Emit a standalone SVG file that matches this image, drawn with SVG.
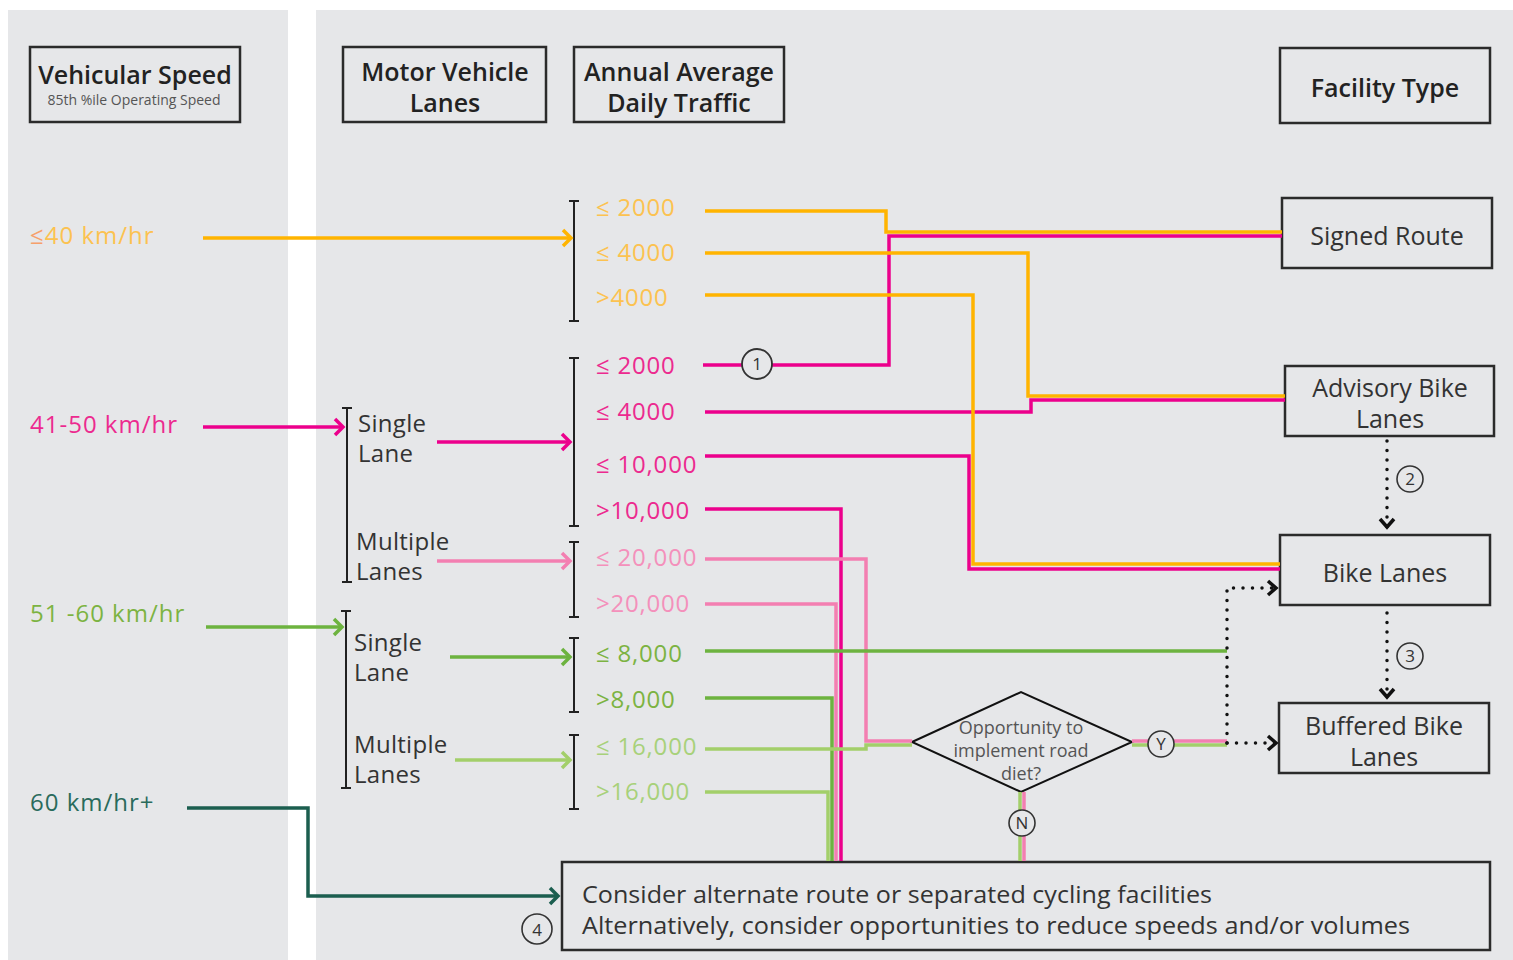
<svg xmlns="http://www.w3.org/2000/svg" width="1513" height="960" viewBox="0 0 1513 960">
<style>
text{font-family:"Open Sans","Lato","Liberation Sans",sans-serif;}
.panel{fill:#e6e7e9;}
.box{fill:none;stroke:#2b2b2b;stroke-width:2.5;}
.hdr{font-size:25px;font-weight:600;fill:#222;text-anchor:middle;}
.fac{font-size:25px;fill:#333;text-anchor:middle;}
.lane{font-size:24px;fill:#333;letter-spacing:0.3px;}
.num{font-size:24px;letter-spacing:0.8px;}
.spd{font-size:24px;letter-spacing:1px;}
.brk{fill:none;stroke:#222;stroke-width:2;}
.ln{fill:none;stroke-width:3.5;stroke-linejoin:miter;}
.o{stroke:#ffb400;} .p{stroke:#ec008c;} .lp{stroke:#f37fb1;} .g{stroke:#6db33f;} .lg{stroke:#a3cf6a;} .t{stroke:#1b5e4f;}
.dot{fill:none;stroke:#111;stroke-width:3.5;stroke-linecap:round;stroke-dasharray:0 9.5;}
.circ{fill:none;stroke:#333;stroke-width:1.6;}
.cn{font-size:17px;fill:#333;text-anchor:middle;}
</style>
<defs>
<marker id="aO" markerUnits="userSpaceOnUse" viewBox="-12 -10 14 20" markerWidth="14" markerHeight="20" refX="0" refY="0" orient="auto" overflow="visible"><path d="M-8,-8 L0,0 L-8,8" fill="none" stroke="#ffb400" stroke-width="3.5"/></marker>
<marker id="aP" markerUnits="userSpaceOnUse" viewBox="-12 -10 14 20" markerWidth="14" markerHeight="20" refX="0" refY="0" orient="auto" overflow="visible"><path d="M-8,-8 L0,0 L-8,8" fill="none" stroke="#ec008c" stroke-width="3.5"/></marker>
<marker id="aLP" markerUnits="userSpaceOnUse" viewBox="-12 -10 14 20" markerWidth="14" markerHeight="20" refX="0" refY="0" orient="auto" overflow="visible"><path d="M-8,-8 L0,0 L-8,8" fill="none" stroke="#f37fb1" stroke-width="3.5"/></marker>
<marker id="aG" markerUnits="userSpaceOnUse" viewBox="-12 -10 14 20" markerWidth="14" markerHeight="20" refX="0" refY="0" orient="auto" overflow="visible"><path d="M-8,-8 L0,0 L-8,8" fill="none" stroke="#6db33f" stroke-width="3.5"/></marker>
<marker id="aLG" markerUnits="userSpaceOnUse" viewBox="-12 -10 14 20" markerWidth="14" markerHeight="20" refX="0" refY="0" orient="auto" overflow="visible"><path d="M-8,-8 L0,0 L-8,8" fill="none" stroke="#a3cf6a" stroke-width="3.5"/></marker>
<marker id="aT" markerUnits="userSpaceOnUse" viewBox="-12 -10 14 20" markerWidth="14" markerHeight="20" refX="0" refY="0" orient="auto" overflow="visible"><path d="M-8,-8 L0,0 L-8,8" fill="none" stroke="#1b5e4f" stroke-width="3.5"/></marker>
<marker id="aK" markerUnits="userSpaceOnUse" viewBox="-12 -10 14 20" markerWidth="14" markerHeight="20" refX="0" refY="0" orient="auto" overflow="visible"><path d="M-8,-7 L0,0 L-8,7" fill="none" stroke="#111" stroke-width="3.5"/></marker>
</defs>
<rect width="1513" height="960" fill="#fff"/>
<rect class="panel" x="8" y="10" width="280" height="950"/>
<rect class="panel" x="316" y="10" width="1197" height="950"/>

<!-- headers -->
<g id="hdr-speed"><rect class="box" x="30" y="47" width="210" height="75"/><text class="hdr" x="135" y="84" font-size="26">Vehicular Speed</text><text x="134" y="105" font-size="14" fill="#555" text-anchor="middle">85th %ile Operating Speed</text></g>
<g id="hdr-lanes"><rect class="box" x="343" y="47" width="203" height="75"/><text class="hdr" x="445" y="81" font-weight="500">Motor Vehicle</text><text class="hdr" x="445" y="112" font-weight="500">Lanes</text></g>
<g id="hdr-aadt"><rect class="box" x="574" y="47" width="210" height="75"/><text class="hdr" x="679" y="81" font-weight="500">Annual Average</text><text class="hdr" x="679" y="112" font-weight="500">Daily Traffic</text></g>
<g id="hdr-fac"><rect class="box" x="1280" y="48" width="210" height="75"/><text class="hdr" x="1385" y="97" font-weight="500">Facility Type</text></g>

<!-- speed labels -->
<g id="spd40"><text class="spd" x="30" y="244" fill="#fcc250" letter-spacing="1.8"><tspan fill="#f6a06a">≤</tspan>40 km/hr</text></g>
<g id="spd50"><text class="spd" x="30" y="433" fill="#ec2a8f">41-50 km/hr</text></g>
<g id="spd60"><text class="spd" x="30" y="622" fill="#7cb342">51 -60 km/hr</text></g>
<g id="spd60p"><text class="spd" x="30" y="811" fill="#2a6b5c">60 km/hr+</text></g>

<!-- lanes -->
<g id="lanes-p">
<path class="brk" d="M347,408 V582 M342,408 H352 M342,582 H352"/>
<text class="lane" x="358" y="432">Single</text><text class="lane" x="358" y="462">Lane</text>
<text class="lane" x="356" y="550">Multiple</text><text class="lane" x="356" y="580">Lanes</text>
</g>
<g id="lanes-g">
<path class="brk" d="M346,611 V788 M341,611 H351 M341,788 H351"/>
<text class="lane" x="354" y="651">Single</text><text class="lane" x="354" y="681">Lane</text>
<text class="lane" x="354" y="753">Multiple</text><text class="lane" x="354" y="783">Lanes</text>
</g>

<!-- AADT -->
<g id="aadt-o">
<path class="brk" d="M574,201 V321 M569,201 H579 M569,321 H579"/>
<text class="num" x="596" y="216" fill="#fcc250">≤ 2000</text>
<text class="num" x="596" y="261" fill="#fcc250">≤ 4000</text>
<text class="num" x="596" y="306" fill="#fcc250">&gt;4000</text>
</g>
<g id="aadt-p">
<path class="brk" d="M574,358 V526 M569,358 H579 M569,526 H579"/>
<text class="num" x="596" y="374" fill="#ec2a8f">≤ 2000</text>
<text class="num" x="596" y="420" fill="#ec2a8f">≤ 4000</text>
<text class="num" x="596" y="473" fill="#ec2a8f">≤ 10,000</text>
<text class="num" x="596" y="519" fill="#ec2a8f">&gt;10,000</text>
</g>
<g id="aadt-lp">
<path class="brk" d="M574,542 V617 M569,542 H579 M569,617 H579"/>
<text class="num" x="596" y="566" fill="#f490bb">≤ 20,000</text>
<text class="num" x="596" y="612" fill="#f490bb">&gt;20,000</text>
</g>
<g id="aadt-g">
<path class="brk" d="M574,638 V712 M569,638 H579 M569,712 H579"/>
<text class="num" x="596" y="662" fill="#7cb342">≤ 8,000</text>
<text class="num" x="596" y="708" fill="#7cb342">&gt;8,000</text>
</g>
<g id="aadt-lg">
<path class="brk" d="M574,735 V809 M569,735 H579 M569,809 H579"/>
<text class="num" x="596" y="755" fill="#a8d17a">≤ 16,000</text>
<text class="num" x="596" y="800" fill="#a8d17a">&gt;16,000</text>
</g>

<!-- facility nodes -->
<g id="signed"><rect class="box" x="1282" y="198" width="210" height="70"/><text class="fac" x="1387" y="245">Signed Route</text></g>
<g id="advisory"><rect class="box" x="1285" y="366" width="209" height="70"/><text class="fac" x="1390" y="397">Advisory Bike</text><text class="fac" x="1390" y="428">Lanes</text></g>
<g id="bike"><rect class="box" x="1280" y="535" width="210" height="70"/><text class="fac" x="1385" y="582">Bike Lanes</text></g>
<g id="buffered"><rect class="box" x="1279" y="703" width="210" height="70"/><text class="fac" x="1384" y="735">Buffered Bike</text><text class="fac" x="1384" y="766">Lanes</text></g>
<g id="diet"><path d="M912,742 L1021,692 L1132,742 L1021,792 Z" fill="none" stroke="#111" stroke-width="2"/>
<text x="1021" y="734" font-size="18" fill="#555" text-anchor="middle">Opportunity to</text>
<text x="1021" y="757" font-size="18" fill="#555" text-anchor="middle">implement road</text>
<text x="1021" y="780" font-size="18" fill="#555" text-anchor="middle">diet?</text></g>
<g id="alt"><rect class="box" x="562" y="862" width="928" height="88"/>
<text x="582" y="903" font-size="23" fill="#333" textLength="630" lengthAdjust="spacingAndGlyphs">Consider alternate route or separated cycling facilities</text>
<text x="582" y="934" font-size="23" fill="#333" textLength="828" lengthAdjust="spacingAndGlyphs">Alternatively, consider opportunities to reduce speeds and/or volumes</text></g>

<!-- connectors -->
<g id="connectors">
<path class="ln o" d="M203,238 H571" marker-end="url(#aO)"/>
<path class="ln p" d="M203,427 H343" marker-end="url(#aP)"/>
<path class="ln g" d="M206,627 H342" marker-end="url(#aG)"/>
<path class="ln t" d="M187,808 H308 V896 H558" marker-end="url(#aT)"/>
<path class="ln p" d="M437,442 H570" marker-end="url(#aP)"/>
<path class="ln lp" d="M437,561 H570" marker-end="url(#aLP)"/>
<path class="ln g" d="M450,657 H570" marker-end="url(#aG)"/>
<path class="ln lg" d="M455,760 H570" marker-end="url(#aLG)"/>
<path class="ln o" d="M705,211 H886 V232 H1282"/>
<path class="ln p" d="M703,365 H889 V236 H1282"/>
<path class="ln o" d="M705,253 H1028 V396 H1285"/>
<path class="ln p" d="M705,412 H1031 V400 H1285"/>
<path class="ln o" d="M705,295 H973 V564 H1280"/>
<path class="ln p" d="M705,456 H969 V569 H1280"/>
<path class="ln lg" d="M705,792 H828 V861"/>
<path class="ln g" d="M705,698 H832 V861"/>
<path class="ln lp" d="M705,604 H836 V861"/>
<path class="ln p" d="M705,509 H841 V861"/>
<path class="ln lp" d="M705,559 H866 V741 H912"/>
<path class="ln lg" d="M705,749 H866 V745 H912"/>
<path class="ln g" d="M705,651 H1227"/>
<path class="ln lp" d="M1132,741 H1227"/>
<path class="ln lg" d="M1132,745 H1227"/>
<path class="ln lg" d="M1020,792 V861"/>
<path class="ln lp" d="M1024,792 V861"/>
<path class="dot" d="M1387,441 V527" marker-end="url(#aK)"/>
<path class="dot" d="M1387,613 V697" marker-end="url(#aK)"/>
<path class="dot" d="M1227,743 V588 H1276" marker-end="url(#aK)"/>
<path class="dot" d="M1227,743 H1276" marker-end="url(#aK)"/>
</g>

<!-- circled labels -->
<g id="c1"><circle cx="757" cy="364" r="15" fill="#e6e7e9" stroke="#333" stroke-width="1.8"/><text class="cn" x="757" y="370">1</text></g>
<g id="c2"><circle class="circ" cx="1410" cy="479" r="13"/><text class="cn" x="1410" y="485">2</text></g>
<g id="c3"><circle class="circ" cx="1410" cy="656" r="13"/><text class="cn" x="1410" y="662">3</text></g>
<g id="c4"><circle class="circ" cx="537" cy="929" r="15"/><text class="cn" x="537" y="936" font-size="19">4</text></g>
<g id="cY"><circle cx="1161" cy="744" r="13" fill="#e6e7e9" stroke="#333" stroke-width="1.6"/><text class="cn" x="1161" y="750">Y</text></g>
<g id="cN"><circle cx="1022" cy="823" r="13" fill="#e6e7e9" stroke="#333" stroke-width="1.6"/><text class="cn" x="1022" y="829">N</text></g>
</svg>
